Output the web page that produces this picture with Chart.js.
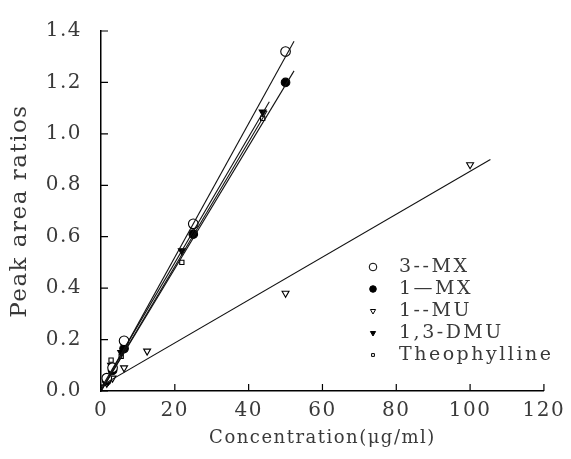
<!DOCTYPE html>
<html>
<head>
<meta charset="utf-8">
<script src="https://cdn.jsdelivr.net/npm/chart.js@4.4.0/dist/chart.umd.min.js"></script>
<style>
body{margin:0;background:#fff;}
#wrap{width:571px;height:459px;}
</style>
</head>
<body>
<div id="wrap"><canvas id="c" width="571" height="459"></canvas></div>
<script>
// values
const seriesNames = ['3--MX', '1\u2014MX', '1--MU', '1,3-DMU', 'Theophylline'];

const mx3X = [1.56, 3.13, 6.25, 25, 50];
const mx3Y = [0.05, 0.09, 0.195, 0.65, 1.32];
const mx1X = [1.56, 3.13, 6.25, 25, 50];
const mx1Y = [0.04, 0.08, 0.165, 0.61, 1.2];
const mu1X = [1.56, 3.13, 6.25, 12.5, 50, 100];
const mu1Y = [0.03, 0.05, 0.09, 0.155, 0.38, 0.88];
const dmuX = [1.37, 2.73, 5.47, 21.9, 43.8];
const dmuY = [0.04, 0.1, 0.15, 0.545, 1.085];
const theoX = [1.37, 2.73, 5.47, 21.9, 43.8];
const theoY = [0.03, 0.12, 0.135, 0.5, 1.06];

// regression lines: start at x=0, end where the drawn line stops
const fitStartY = [0.0, 0.0, 0.02, 0.01, 0.0];
const fitEndX = [52.3, 52.3, 105.5, 45.6, 45.0];
const fitEndY = [1.36, 1.245, 0.9, 1.125, 1.09];

const xTicks = [0, 20, 40, 60, 80, 100, 120];
const yTicks = [0, 0.2, 0.4, 0.6, 0.8, 1.0, 1.2, 1.4];

const FONT = '"DejaVu Serif", "Liberation Serif", serif';
const INK = '#3a3a3a';

const marks = [
    { style: 'circle',   rot: 0,   r: 4.8, fill: false },
    { style: 'circle',   rot: 0,   r: 4.3, fill: true  },
    { style: 'triangle', rot: 180, r: 4,   fill: false },
    { style: 'triangle', rot: 180, r: 4,   fill: true  },
    { style: 'rect',     rot: 0,   r: 3,   fill: false }
];

const pointsX = [mx3X, mx1X, mu1X, dmuX, theoX];
const pointsY = [mx3Y, mx1Y, mu1Y, dmuY, theoY];

const datasets = [];
// fitted lines first so markers sit on top
fitEndX.forEach((ex, i) => {
    datasets.push({
        type: 'line',
        label: 'fit ' + seriesNames[i],
        data: [{x: 0, y: fitStartY[i]}, {x: ex, y: fitEndY[i]}],
        borderColor: '#111',
        borderWidth: 1.1,
        pointRadius: 0,
        fill: false
    });
});
pointsX.forEach((xs, i) => {
    const m = marks[i];
    datasets.push({
        type: 'scatter',
        label: seriesNames[i],
        data: xs.map((v, k) => ({x: v, y: pointsY[i][k]})),
        pointStyle: m.style,
        rotation: m.rot,
        pointRadius: m.r,
        borderWidth: 1.1,
        borderColor: '#000',
        backgroundColor: m.fill ? '#000' : '#fff'
    });
});

// ticks point into the plot, like the original
const inwardTicks = {
    id: 'inwardTicks',
    afterDraw(chart){
        const {ctx, chartArea: a, scales: {x, y}} = chart;
        ctx.save();
        ctx.strokeStyle = '#000';
        ctx.lineWidth = 1.2;
        ctx.beginPath();
        x.ticks.forEach(t => {
            const px = x.getPixelForValue(t.value);
            ctx.moveTo(px, a.bottom);
            ctx.lineTo(px, a.bottom - 7);
        });
        y.ticks.forEach(t => {
            const py = y.getPixelForValue(t.value);
            ctx.moveTo(a.left, py);
            ctx.lineTo(a.left + 7, py);
        });
        ctx.stroke();
        ctx.restore();
    }
};

const spacing = {
    id: 'spacing',
    beforeDraw(chart){ chart.ctx.letterSpacing = '1.5px'; }
};

// legend inside the plot, lower right
const figLegend = {
    id: 'figLegend',
    afterDatasetsDraw(chart){
        const ctx = chart.ctx;
        ctx.save();
        ctx.letterSpacing = '2.5px';
        ctx.font = '19px ' + FONT;
        ctx.textBaseline = 'middle';
        seriesNames.forEach((name, i) => {
            const m = marks[i];
            const yy = 267 + i * 22;
            ctx.strokeStyle = '#000';
            ctx.lineWidth = 1;
            ctx.fillStyle = m.fill ? '#000' : '#fff';
            Chart.helpers.drawPoint(ctx, {pointStyle: m.style, rotation: m.rot, radius: m.r - 1, borderWidth: 1}, 373, yy);
            ctx.fillStyle = INK;
            ctx.fillText(name, 399, yy);
        });
        ctx.restore();
    }
};

new Chart(document.getElementById('c'), {
    type: 'scatter',
    data: { datasets },
    options: {
        responsive: false,
        animation: false,
        layout: { padding: { top: 25, right: 23, left: 0, bottom: 0 } },
        plugins: { legend: { display: false }, tooltip: { enabled: false } },
        scales: {
            x: {
                type: 'linear', min: 0, max: 120,
                afterBuildTicks(s){ s.ticks = xTicks.map(v => ({value: v})); },
                ticks: { padding: 8, color: INK, font: { family: FONT, size: 20 } },
                grid: { display: false, drawTicks: false },
                border: { display: true, color: '#000', width: 1.5 },
                title: { display: true, text: 'Concentration(\u03bcg/ml)', color: INK,
                         font: { family: FONT, size: 18 }, padding: { top: 0, bottom: 10 } },
                afterFit(s){ s.height = 68; }
            },
            y: {
                type: 'linear', min: 0, max: 1.4,
                afterBuildTicks(s){ s.ticks = yTicks.map(v => ({value: v})); },
                ticks: { padding: 19, color: INK, font: { family: FONT, size: 20 },
                         callback: v => Number(v).toFixed(1) },
                grid: { display: false, drawTicks: false },
                border: { display: true, color: '#000', width: 1.5 },
                title: { display: true, text: 'Peak area ratios', color: INK,
                         font: { family: FONT, size: 23 }, padding: { top: 6, bottom: 0 } },
                afterFit(s){ s.width = 101; }
            }
        }
    },
    plugins: [spacing, inwardTicks, figLegend]
});
</script>
</body>
</html>
